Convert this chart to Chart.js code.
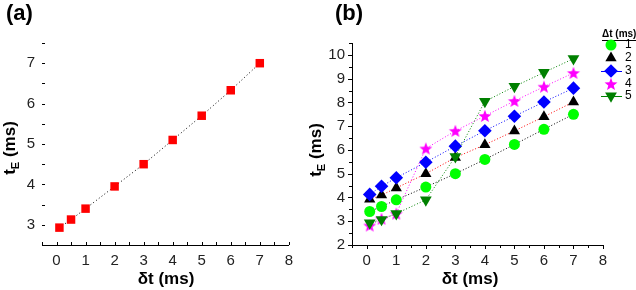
<!DOCTYPE html>
<html>
<head>
<meta charset="utf-8">
<script src="https://cdn.jsdelivr.net/npm/chart.js"></script>
<style>
  body { margin: 0; background: #fff; }
  #wrap { position: relative; width: 636px; height: 290px; overflow: hidden; }
  canvas { position: absolute; top: 0; }
</style>
</head>
<body>
<div id="wrap">
  <canvas id="chartA" width="300" height="290" style="left:0"></canvas>
  <canvas id="chartB" width="336" height="290" style="left:300px"></canvas>
</div>
<script>
// delay times (ms), same for both panels
const dtVals = [0.1, 0.5, 1, 2, 3, 4, 5, 6, 7];

// panel (a)
const tEa = [2.93, 3.13, 3.4, 3.95, 4.5, 5.1, 5.7, 6.33, 7.0];

// panel (b), one list per Δt
const deltaLabels = ['1', '2', '3', '4', '5'];
const tE1 = [3.41, 3.62, 3.9, 4.44, 5.0, 5.6, 6.23, 6.87, 7.5];
const tE2 = [3.92, 4.1, 4.4, 5.0, 5.68, 6.22, 6.8, 7.4, 8.02];
const tE3 = [4.13, 4.47, 4.83, 5.48, 6.16, 6.81, 7.42, 8.02, 8.6];
const tE4 = [2.82, 3.1, 3.32, 6.06, 6.8, 7.43, 8.06, 8.66, 9.24];
const tE5 = [2.93, 3.07, 3.32, 3.9, 5.72, 8.04, 8.67, 9.26, 9.84];

const FONT = '"Liberation Sans", Arial, sans-serif';

function pts(ys) {
  return dtVals.map((x, i) => ({ x: x, y: ys[i] }));
}

// filled five point star for series 4
function makeStar(color, r) {
  const c = document.createElement('canvas');
  const s = Math.ceil(r * 2 + 2);
  c.width = s; c.height = s;
  const g = c.getContext('2d');
  g.fillStyle = color;
  g.beginPath();
  for (let i = 0; i < 10; i++) {
    const rad = i % 2 === 0 ? r : r * 0.42;
    const a = -Math.PI / 2 + i * Math.PI / 5;
    const px = s / 2 + Math.cos(a) * rad;
    const py = s / 2 + 0.6 + Math.sin(a) * rad;
    if (i === 0) g.moveTo(px, py); else g.lineTo(px, py);
  }
  g.closePath();
  g.fill();
  return c;
}
const star = makeStar('#ff00ff', 6.8);

// ticks drawn by hand (Origin style: minor at halves)
const tickPlugin = {
  id: 'originTicks',
  afterDraw(chart, args, opts) {
    const ctx = chart.ctx;
    const a = chart.chartArea;
    ctx.save();
    ctx.strokeStyle = '#000';
    ctx.lineWidth = 1;
    const xs = chart.scales.x, ys = chart.scales.y;
    const dir = opts.inward ? -1 : 1;
    ctx.beginPath();
    xs.ticks.forEach(t => {
      const px = Math.round(xs.getPixelForValue(t.value)) + 0.5;
      const len = Number.isInteger(t.value) ? opts.major : opts.minor;
      ctx.moveTo(px, a.bottom);
      ctx.lineTo(px, a.bottom + dir * len);
    });
    ys.ticks.forEach(t => {
      const py = Math.round(ys.getPixelForValue(t.value)) + 0.5;
      const len = Number.isInteger(t.value) ? opts.major : opts.minor;
      ctx.moveTo(a.left, py);
      ctx.lineTo(a.left - dir * len, py);
    });
    ctx.stroke();
    ctx.restore();
  }
};

// panel letter, axis titles (t with subscript E)
const labelPlugin = {
  id: 'panelLabels',
  afterDraw(chart, args, o) {
    const ctx = chart.ctx;
    ctx.save();
    ctx.fillStyle = '#000';
    ctx.textBaseline = 'middle';
    ctx.font = 'bold 22px ' + FONT;
    ctx.textAlign = 'left';
    ctx.fillText(o.panel, o.panelX, o.panelY);

    ctx.font = 'bold 17px ' + FONT;
    ctx.textAlign = 'center';
    ctx.fillText('\u03b4t (ms)', o.xTitleX, o.xTitleY);

    ctx.translate(o.yTitleX, o.yTitleY);
    ctx.rotate(-Math.PI / 2);
    ctx.textAlign = 'left';
    const big = 'bold 17px ' + FONT, small = 'bold 11px ' + FONT;
    ctx.font = big;
    const wT = ctx.measureText('t').width;
    const wRest = ctx.measureText(' (ms)').width;
    ctx.font = small;
    const wE = ctx.measureText('E').width;
    let x0 = -(wT + wE + wRest) / 2;
    ctx.font = big;
    ctx.fillText('t', x0, 0);
    ctx.font = small;
    ctx.fillText('E', x0 + wT, 6);
    ctx.font = big;
    ctx.fillText(' (ms)', x0 + wT + wE, 0);
    ctx.restore();
  }
};

function baseScales(yMin, yMax, yWidth, showYBorder) {
  return {
    x: {
      type: 'linear', min: -0.5, max: 8,
      afterFit: s => { s.height = 45; },
      border: { display: true, color: '#000', width: 1 },
      grid: { display: true, drawOnChartArea: false, drawTicks: false },
      ticks: {
        stepSize: 0.5, padding: 7, color: '#222',
        font: { family: FONT, size: 15 },
        autoSkip: false, maxRotation: 0,
        callback: v => (Number.isInteger(v) && v >= 0 ? String(v) : '')
      }
    },
    y: {
      type: 'linear', min: yMin, max: yMax,
      afterFit: s => { s.width = yWidth; },
      border: { display: showYBorder, color: '#000', width: 1 },
      grid: { display: true, drawOnChartArea: false, drawTicks: false },
      ticks: {
        stepSize: 0.5, padding: 7, color: '#222',
        font: { family: FONT, size: 15 },
        autoSkip: false,
        callback: v => (Number.isInteger(v) ? String(v) : '')
      }
    }
  };
}

new Chart(document.getElementById('chartA'), {
  type: 'scatter',
  data: {
    datasets: [{
      data: pts(tEa),
      showLine: true,
      borderColor: '#000',
      borderWidth: 1,
      borderDash: [1, 2.5],
      pointStyle: 'rect',
      pointRadius: 6,
      pointBackgroundColor: '#ff0000',
      pointBorderColor: '#ff0000',
      pointBorderWidth: 0,
      clip: false
    }]
  },
  options: {
    responsive: false,
    animation: false,
    events: [],
    layout: { padding: { top: 43, right: 6, left: 0, bottom: 0 } },
    scales: baseScales(2.5, 7.5, 42, false),
    plugins: {
      legend: { display: false },
      tooltip: { enabled: false },
      originTicks: { inward: true, major: 3, minor: 3 },
      panelLabels: { panel: '(a)', panelX: 6, panelY: 14, xTitleX: 166, xTitleY: 279, yTitleX: 10, yTitleY: 148 }
    }
  },
  plugins: [tickPlugin, labelPlugin]
});

const seriesB = [
  { ys: tE1, line: '#000000', fill: '#00ff00', style: 'circle', r: 5.5, rot: 0, order: 5 },
  { ys: tE2, line: '#ff0000', fill: '#000000', style: 'triangle', r: 6.5, rot: 0, order: 4 },
  { ys: tE3, line: '#0000ff', fill: '#0000ff', style: 'rectRot', r: 6.8, rot: 0, order: 3 },
  { ys: tE4, line: '#ff00ff', fill: '#ff00ff', style: star, r: 6.8, rot: 0, order: 2 },
  { ys: tE5, line: '#008000', fill: '#008000', style: 'triangle', r: 6.8, rot: 180, order: 1 }
];

// legend of panel (b), Origin style
const legendPlugin = {
  id: 'originLegend',
  afterDraw(chart) {
    const ctx = chart.ctx;
    ctx.save();
    ctx.fillStyle = '#000';
    ctx.font = 'bold 10px ' + FONT;
    ctx.textBaseline = 'middle';
    ctx.textAlign = 'left';
    const title = '\u0394t (ms)';
    ctx.fillText(title, 302, 34);
    const w = ctx.measureText(title).width;
    ctx.fillRect(302, 40, w, 1);
    ctx.font = '12px ' + FONT;
    const rows = [45, 58, 71, 84, 96];
    seriesB.forEach((s, i) => {
      const y = rows[i];
      if (i === 2 || i === 4) {
        ctx.strokeStyle = s.fill;
        ctx.lineWidth = 1;
        ctx.beginPath();
        ctx.moveTo(301, y + 0.5);
        ctx.lineTo(322, y + 0.5);
        ctx.stroke();
      }
      ctx.fillStyle = s.fill;
      ctx.strokeStyle = s.fill;
      Chart.helpers.drawPoint(ctx, {
        pointStyle: s.style, radius: s.r, rotation: s.rot, borderWidth: 0
      }, 311, y);
      ctx.fillStyle = '#000';
      ctx.fillText(deltaLabels[i], 325, y);
    });
    ctx.restore();
  }
};

new Chart(document.getElementById('chartB'), {
  type: 'scatter',
  data: {
    datasets: seriesB.map((s, i) => ({
      label: '\u0394t = ' + deltaLabels[i] + ' ms',
      data: pts(s.ys),
      showLine: true,
      borderColor: s.line,
      borderWidth: 1,
      borderDash: [1, 2],
      pointStyle: s.style,
      pointRadius: s.r,
      rotation: s.rot,
      pointBackgroundColor: s.fill,
      pointBorderColor: s.fill,
      pointBorderWidth: 0,
      order: s.order,
      clip: false
    }))
  },
  options: {
    responsive: false,
    animation: false,
    events: [],
    layout: { padding: { top: 43, right: 33, left: 0, bottom: 0 } },
    scales: baseScales(2, 10.5, 52, true),
    plugins: {
      legend: { display: false },
      tooltip: { enabled: false },
      originTicks: { inward: false, major: 4, minor: 3 },
      panelLabels: { panel: '(b)', panelX: 35, panelY: 14, xTitleX: 170, xTitleY: 279, yTitleX: 16, yTitleY: 150 }
    }
  },
  plugins: [tickPlugin, labelPlugin, legendPlugin]
});
</script>
</body>
</html>
